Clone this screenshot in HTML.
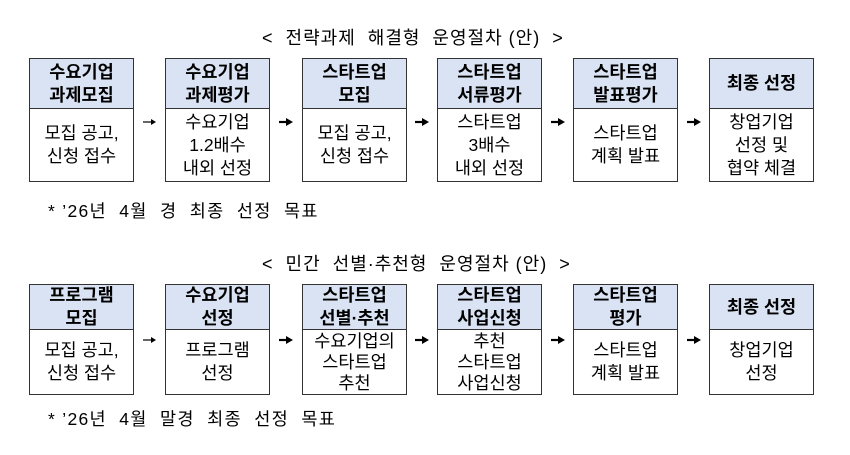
<!DOCTYPE html>
<html><head><meta charset="utf-8"><style>
body{margin:0;width:850px;height:455px;background:#fff;position:relative;font-family:"Liberation Sans","Noto Sans CJK KR",sans-serif;color:#000;overflow:hidden}
.t{position:absolute;font-size:18px;white-space:pre;letter-spacing:1px}
.b{position:absolute;width:105px;border:1.5px solid #333;box-sizing:border-box;background:#fff}
.h{background:#dae3f3;border-bottom:1.5px solid #333;display:flex;align-items:center;justify-content:center;text-align:center;font-weight:bold;font-size:17.5px;line-height:23px;white-space:nowrap}
.c{display:flex;align-items:center;justify-content:center;text-align:center;font-size:17.5px;line-height:23px;white-space:nowrap}
svg.a{position:absolute;width:14px;height:10px}
</style></head><body>
<div class="t" style="left:262px;top:24px">&lt;  전략과제  해결형  운영절차 (안)  &gt;</div>
<div class="t" style="left:48px;top:198px;font-size:17.5px;letter-spacing:1.3px">* ’26년  4월  경  최종  선정  목표</div>
<div class="t" style="left:262px;top:250px">&lt;  민간  선별·추천형  운영절차 (안)  &gt;</div>
<div class="t" style="left:48px;top:406px;font-size:17.5px;letter-spacing:1.3px">* ’26년  4월  말경  최종  선정  목표</div>

<div class="b" style="left:29px;top:58px;height:124px"><div class="h" style="height:49px">수요기업<br>과제모집</div><div class="c" style="height:72px">모집 공고,<br>신청 접수</div></div>
<div class="b" style="left:165px;top:58px;height:124px"><div class="h" style="height:49px">수요기업<br>과제평가</div><div class="c" style="height:72px">수요기업<br>1.2배수<br>내외 선정</div></div>
<div class="b" style="left:302px;top:58px;height:124px"><div class="h" style="height:49px">스타트업<br>모집</div><div class="c" style="height:72px">모집 공고,<br>신청 접수</div></div>
<div class="b" style="left:437px;top:58px;height:124px"><div class="h" style="height:49px">스타트업<br>서류평가</div><div class="c" style="height:72px">스타트업<br>3배수<br>내외 선정</div></div>
<div class="b" style="left:573px;top:58px;height:124px"><div class="h" style="height:49px">스타트업<br>발표평가</div><div class="c" style="height:72px">스타트업<br>계획 발표</div></div>
<div class="b" style="left:709px;top:58px;height:124px"><div class="h" style="height:49px">최종 선정</div><div class="c" style="height:72px">창업기업<br>선정 및<br>협약 체결</div></div>

<svg class="a" style="left:143px;top:117px" viewBox="0 0 14 10"><line x1="0" y1="5" x2="10" y2="5" stroke="#000" stroke-width="1.2"/><path d="M8,2 L13,5 L8,8 Z" fill="#000"/></svg>
<svg class="a" style="left:279px;top:117px" viewBox="0 0 14 10"><line x1="0" y1="5" x2="10" y2="5" stroke="#000" stroke-width="2.2"/><path d="M7,1 L14,5 L7,9 Z" fill="#000"/></svg>
<svg class="a" style="left:415px;top:117px" viewBox="0 0 14 10"><line x1="0" y1="5" x2="10" y2="5" stroke="#000" stroke-width="2.2"/><path d="M7,1 L14,5 L7,9 Z" fill="#000"/></svg>
<svg class="a" style="left:551px;top:117px" viewBox="0 0 14 10"><line x1="0" y1="5" x2="10" y2="5" stroke="#000" stroke-width="2.2"/><path d="M7,1 L14,5 L7,9 Z" fill="#000"/></svg>
<svg class="a" style="left:687px;top:117px" viewBox="0 0 14 10"><line x1="0" y1="5" x2="10" y2="5" stroke="#000" stroke-width="2.2"/><path d="M7,1 L14,5 L7,9 Z" fill="#000"/></svg>

<div class="b" style="left:29px;top:284px;height:111px"><div class="h" style="height:44px">프로그램<br>모집</div><div class="c" style="height:64px">모집 공고,<br>신청 접수</div></div>
<div class="b" style="left:165px;top:284px;height:111px"><div class="h" style="height:44px">수요기업<br>선정</div><div class="c" style="height:64px">프로그램<br>선정</div></div>
<div class="b" style="left:302px;top:284px;height:111px"><div class="h" style="height:44px">스타트업<br>선별·추천</div><div class="c" style="height:64px;line-height:21px">수요기업의<br>스타트업<br>추천</div></div>
<div class="b" style="left:437px;top:284px;height:111px"><div class="h" style="height:44px">스타트업<br>사업신청</div><div class="c" style="height:64px;line-height:21px">추천<br>스타트업<br>사업신청</div></div>
<div class="b" style="left:573px;top:284px;height:111px"><div class="h" style="height:44px">스타트업<br>평가</div><div class="c" style="height:64px">스타트업<br>계획 발표</div></div>
<div class="b" style="left:709px;top:284px;height:111px"><div class="h" style="height:44px">최종 선정</div><div class="c" style="height:64px">창업기업<br>선정</div></div>

<svg class="a" style="left:143px;top:335px" viewBox="0 0 14 10"><line x1="0" y1="5" x2="10" y2="5" stroke="#000" stroke-width="1.2"/><path d="M8,2 L13,5 L8,8 Z" fill="#000"/></svg>
<svg class="a" style="left:279px;top:335px" viewBox="0 0 14 10"><line x1="0" y1="5" x2="10" y2="5" stroke="#000" stroke-width="2.2"/><path d="M7,1 L14,5 L7,9 Z" fill="#000"/></svg>
<svg class="a" style="left:415px;top:335px" viewBox="0 0 14 10"><line x1="0" y1="5" x2="10" y2="5" stroke="#000" stroke-width="2.2"/><path d="M7,1 L14,5 L7,9 Z" fill="#000"/></svg>
<svg class="a" style="left:551px;top:335px" viewBox="0 0 14 10"><line x1="0" y1="5" x2="10" y2="5" stroke="#000" stroke-width="2.2"/><path d="M7,1 L14,5 L7,9 Z" fill="#000"/></svg>
<svg class="a" style="left:687px;top:335px" viewBox="0 0 14 10"><line x1="0" y1="5" x2="10" y2="5" stroke="#000" stroke-width="2.2"/><path d="M7,1 L14,5 L7,9 Z" fill="#000"/></svg>
</body></html>
